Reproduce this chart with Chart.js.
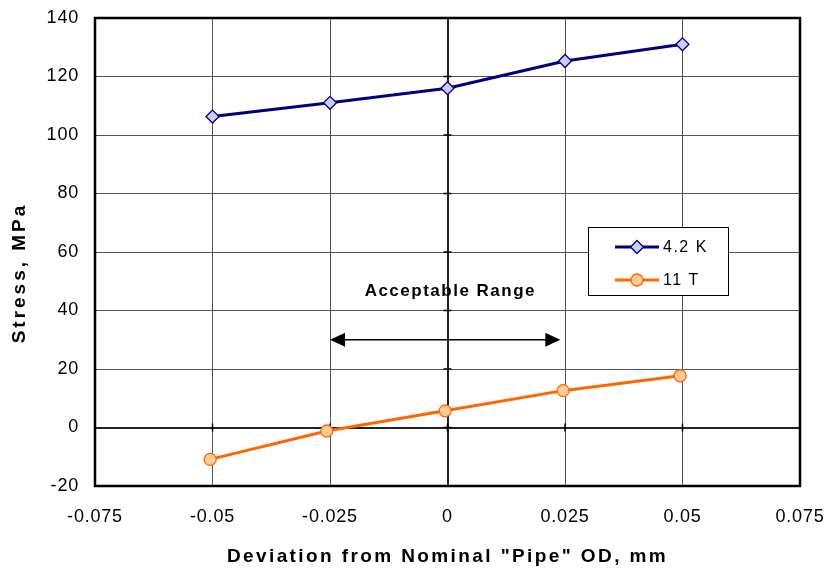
<!DOCTYPE html>
<html><head><meta charset="utf-8">
<script src="https://cdn.jsdelivr.net/npm/chart.js@4"></script>
<style>html,body{margin:0;padding:0;background:#fff}#wrap{width:824px;height:570px}</style>
</head><body><div id="wrap"><canvas id="c" width="824" height="570"></canvas></div>
<script>
const seriesLabels = ['4.2 K', '11 T'];
const x42K = [-0.05, -0.025, 0, 0.025, 0.05];
const stress42K = [106.3, 111.0, 116.0, 125.3, 131.0];
const x11T = [-0.0505, -0.0257, -0.0005, 0.0246, 0.0495];
const stress11T = [-10.9, -1.2, 5.7, 12.6, 17.7];
const xTicks = [-0.075, -0.05, -0.025, 0, 0.025, 0.05, 0.075];
const yTicks = [-20, 0, 20, 40, 60, 80, 100, 120, 140];
const rangeText = 'Acceptable Range';
const rangeX = [-0.025, 0.024];
const rangeArrowY = 30;
const rangeTextPos = [0.0006, 46.5];
const xTitle = 'Deviation from Nominal "Pipe" OD, mm';
const yTitle = 'Stress, MPa';

const FONT = 'Arial, "Liberation Sans", sans-serif';

const extras = {
  id: 'extras',
  beforeDraw(chart) {
    chart.ctx.letterSpacing = '0.8px';
  },
  beforeDatasetsDraw(chart) {
    const {ctx, chartArea: a, scales: {x, y}} = chart;
    ctx.save();
    ctx.strokeStyle = '#000';
    ctx.lineWidth = 1.5;
    const x0 = x.getPixelForValue(0), y0 = y.getPixelForValue(0);
    yTicks.forEach(v => { const py = y.getPixelForValue(v); ctx.beginPath(); ctx.moveTo(x0 - 4, py); ctx.lineTo(x0 + 4, py); ctx.stroke(); });
    xTicks.forEach(v => { const px = x.getPixelForValue(v); ctx.beginPath(); ctx.moveTo(px, y0 - 4); ctx.lineTo(px, y0 + 4); ctx.stroke(); });
    ctx.lineWidth = 2.5;
    ctx.strokeStyle = '#000';
    ctx.strokeRect(a.left, a.top, a.right - a.left, a.bottom - a.top);
    ctx.restore();
  },
  afterDraw(chart) {
    const {ctx, chartArea: a, scales: {x, y}} = chart;
    ctx.save();
    const ax1 = x.getPixelForValue(rangeX[0]), ax2 = x.getPixelForValue(rangeX[1]);
    const ay = y.getPixelForValue(rangeArrowY);
    const hl = 15, hw = 7;
    ctx.strokeStyle = '#000'; ctx.fillStyle = '#000'; ctx.lineWidth = 1.5;
    ctx.beginPath(); ctx.moveTo(ax1 + hl - 2, ay); ctx.lineTo(ax2 - hl + 2, ay); ctx.stroke();
    ctx.beginPath(); ctx.moveTo(ax1, ay); ctx.lineTo(ax1 + hl, ay - hw); ctx.lineTo(ax1 + hl, ay + hw); ctx.closePath(); ctx.fill();
    ctx.beginPath(); ctx.moveTo(ax2, ay); ctx.lineTo(ax2 - hl, ay - hw); ctx.lineTo(ax2 - hl, ay + hw); ctx.closePath(); ctx.fill();
    ctx.font = 'bold 17px ' + FONT;
    ctx.letterSpacing = '1.5px';
    ctx.textAlign = 'center'; ctx.textBaseline = 'middle';
    ctx.fillText(rangeText, x.getPixelForValue(rangeTextPos[0]), y.getPixelForValue(rangeTextPos[1]));

    const lx = 588, ly = 227, lw = 140, lh = 68;
    ctx.fillStyle = '#fff';
    ctx.fillRect(lx, ly, lw, lh);
    ctx.strokeStyle = '#000'; ctx.lineWidth = 1;
    ctx.strokeRect(lx + 0.5, ly + 0.5, lw, lh);
    chart.data.datasets.forEach((ds, i) => {
      const cy = ly + 20 + i * 33;
      ctx.strokeStyle = ds.borderColor; ctx.lineWidth = ds.borderWidth;
      ctx.beginPath(); ctx.moveTo(lx + 27, cy); ctx.lineTo(lx + 71, cy); ctx.stroke();
      ctx.lineWidth = ds.pointBorderWidth;
      ctx.strokeStyle = ds.pointBorderColor; ctx.fillStyle = ds.pointBackgroundColor;
      Chart.helpers.drawPoint(ctx, {pointStyle: ds.pointStyle, rotation: 0, radius: ds.pointRadius, borderWidth: ds.pointBorderWidth}, lx + 49, cy);
      ctx.fillStyle = '#000';
      ctx.font = '16px ' + FONT;
      ctx.letterSpacing = '1.5px';
      ctx.textAlign = 'left'; ctx.textBaseline = 'middle';
      ctx.fillText(ds.label, lx + 75, cy + 1);
    });

    ctx.fillStyle = '#000';
    ctx.font = 'bold 19px ' + FONT;
    ctx.letterSpacing = '2.4px';
    ctx.textAlign = 'center'; ctx.textBaseline = 'middle';
    ctx.fillText(xTitle, (a.left + a.right) / 2, 557);
    ctx.translate(20, 273);
    ctx.rotate(-Math.PI / 2);
    ctx.letterSpacing = '3px';
    ctx.fillText(yTitle, 0, 0);
    ctx.restore();
  }
};

const gridColor = c => (c.tick && c.tick.value === 0) ? '#222' : '#555';
const gridWidth = c => (c.tick && c.tick.value === 0) ? 2 : 1;

new Chart(document.getElementById('c'), {
  type: 'line',
  data: {
    datasets: [
      {
        label: seriesLabels[0],
        data: x42K.map((v, i) => ({x: v, y: stress42K[i]})),
        borderColor: '#000080', borderWidth: 3,
        pointStyle: 'rectRot', pointRadius: 6.5, pointBorderWidth: 1.3,
        pointBackgroundColor: '#ccccff', pointBorderColor: '#000080',
        tension: 0, fill: false
      },
      {
        label: seriesLabels[1],
        data: x11T.map((v, i) => ({x: v, y: stress11T[i]})),
        borderColor: '#ff6600', borderWidth: 3,
        pointStyle: 'circle', pointRadius: 6, pointBorderWidth: 1.3,
        pointBackgroundColor: '#ffcc99', pointBorderColor: '#ff6600',
        tension: 0, fill: false
      }
    ]
  },
  options: {
    responsive: false, animation: false, devicePixelRatio: 1,
    layout: {padding: {top: 18, right: 24, left: 0, bottom: 0}},
    plugins: {legend: {display: false}, tooltip: {enabled: false}},
    scales: {
      x: {
        type: 'linear', min: -0.075, max: 0.075,
        afterBuildTicks: s => { s.ticks = xTicks.map(v => ({value: v})); },
        afterFit: s => { s.height = 84; s.paddingLeft = 0; s.paddingRight = 0; s.paddingTop = 0; s.paddingBottom = 0; },
        ticks: {callback: v => String(v), color: '#000', font: {family: FONT, size: 18}, padding: 20, maxRotation: 0, autoSkip: false},
        grid: {color: gridColor, lineWidth: gridWidth, drawTicks: false},
        border: {display: false}
      },
      y: {
        type: 'linear', min: -20, max: 140,
        afterBuildTicks: s => { s.ticks = yTicks.map(v => ({value: v})); },
        afterFit: s => { s.width = 95; s.paddingLeft = 0; s.paddingRight = 0; s.paddingTop = 0; s.paddingBottom = 0; },
        ticks: {callback: v => String(v), color: '#000', font: {family: FONT, size: 18}, padding: 16, autoSkip: false},
        grid: {color: gridColor, lineWidth: gridWidth, drawTicks: false},
        border: {display: false}
      }
    }
  },
  plugins: [extras]
});
</script>
</body></html>
